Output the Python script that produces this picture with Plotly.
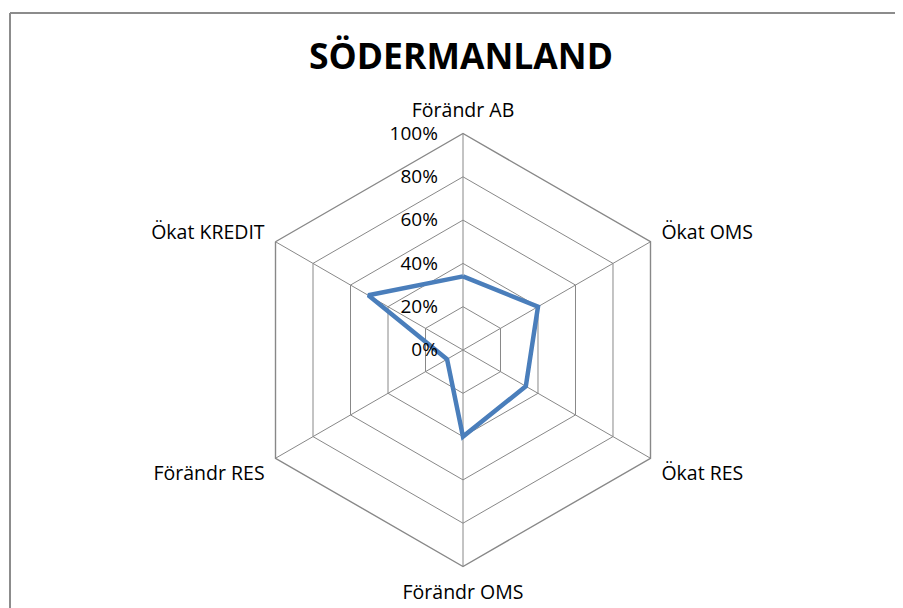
import plotly.graph_objects as go

categories = ["Förändr AB", "Ökat OMS", "Ökat RES", "Förändr OMS", "Förändr RES", "Ökat KREDIT"]
values = [34, 40, 33.5, 40, 8.5, 50.5]
tick_vals = [0, 20, 40, 60, 80, 100]
tick_text = ["0%", "20%", "40%", "60%", "80%", "100%"]
title_text = "SÖDERMANLAND"

# page has an 8px body margin, so positions are reference minus 8
W, H = 895, 600
cx, cy, R = 455, 342, 216.5

fig = go.Figure()
fig.add_trace(go.Scatterpolar(
    r=values + values[:1],
    theta=categories + categories[:1],
    mode="lines",
    line=dict(color="#4a7ebb", width=4.5),
    hoverinfo="skip",
    showlegend=False,
))

grid = "#888888"
border = dict(color="#8c8c8c", width=2)
fig.update_layout(
    width=W, height=H,
    margin=dict(l=0, r=0, t=0, b=0),
    paper_bgcolor="white",
    plot_bgcolor="white",
    font=dict(family="Open Sans", color="#000000", size=19),
    title=dict(text=title_text, x=(cx - 2) / W, xanchor="center", y=1 - 49 / H, yanchor="middle",
               font=dict(family="Open Sans", size=35.5, weight="bold", color="#000000")),
    polar=dict(
        domain=dict(x=[(cx - R) / W, (cx + R) / W], y=[(H - cy - R) / H, (H - cy + R) / H]),
        gridshape="linear",
        bgcolor="white",
        angularaxis=dict(
            direction="clockwise", rotation=90,
            showline=True, linecolor=grid, linewidth=1.4,
            gridcolor=grid, gridwidth=1.4,
            ticks="outside", ticklen=8, tickcolor="rgba(0,0,0,0)",
            tickfont=dict(family="Open Sans", size=19.5, color="#000000"),
        ),
        radialaxis=dict(
            range=[0, 100], angle=90, tickangle=90,
            tickvals=tick_vals, ticktext=tick_text,
            showline=False, side="counterclockwise",
            ticks="outside", ticklen=18, tickcolor="rgba(0,0,0,0)",
            gridcolor=grid, gridwidth=1.4,
            tickfont=dict(family="Open Sans", size=19, color="#000000"),
        ),
    ),
    shapes=[
        dict(type="line", xref="paper", yref="paper",
             x0=2 / W, x1=1.0, y0=1 - 5 / H, y1=1 - 5 / H, line=border, layer="above"),
        dict(type="line", xref="paper", yref="paper",
             x0=2 / W, x1=2 / W, y0=0.0, y1=1 - 5 / H, line=border, layer="above"),
    ],
)

fig.write_html("out.html")
